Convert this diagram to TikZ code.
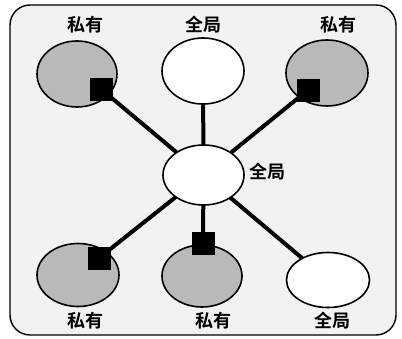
\documentclass[tikz,border=0pt]{standalone}
\usepackage{fontspec}
\newfontfamily\cjk{Noto Sans CJK SC}[BoldFont={Noto Sans CJK SC Bold}]
\usetikzlibrary{shapes.geometric,backgrounds}
\tikzset{
  priv/.style={ellipse,draw=black,line width=1.6pt,fill=gray!55,inner sep=0pt},
  glob/.style={ellipse,draw=black,line width=1.6pt,fill=white,inner sep=0pt},
  port/.style={rectangle,fill=black,draw=black,minimum size=22pt,inner sep=0pt},
  lbl/.style={font=\cjk\bfseries\fontsize{18}{20}\selectfont,inner sep=0pt},
  link/.style={line width=4pt,draw=black}
}
\begin{document}
\begin{tikzpicture}[x=1pt,y=-1pt]
\useasboundingbox (0,0) rectangle (402,339);
% ellipses
\node[priv,minimum width=80pt,minimum height=66pt] (p1) at (77,74) {};
\node[glob,minimum width=82pt,minimum height=66pt] (g1) at (203,71) {};
\node[priv,minimum width=82pt,minimum height=66pt] (p2) at (327,73) {};
\node[glob,minimum width=81pt,minimum height=60pt] (c) at (203.5,175) {};
\node[priv,minimum width=82pt,minimum height=63pt] (p3) at (78,275) {};
\node[priv,minimum width=80pt,minimum height=62pt] (p4) at (202,276) {};
\node[glob,minimum width=83pt,minimum height=55pt] (g2) at (328,280) {};
% ports
\node[port] (s1) at (101,89) {};
\node[port] (s2) at (308,90) {};
\node[port] (s3) at (99,258) {};
\node[port] (s4) at (203,243) {};
% labels
\node[lbl] (l1) at (85,25) {私有};
\node[lbl] (l2) at (203,25) {全局};
\node[lbl] (l3) at (338,25) {私有};
\node[lbl] (l4) at (267,172) {全局};
\node[lbl] (l5) at (85,321) {私有};
\node[lbl] (l6) at (213,321) {私有};
\node[lbl] (l7) at (332,321) {全局};
\begin{scope}[on background layer]
  \draw[line width=1.4pt,fill=gray!10,rounded corners=20pt] (10,5) rectangle (396,335);
  \draw[link] (c.center) -- (s1.center);
  \draw[link] (c.center) -- (g1.center);
  \draw[link] (c.center) -- (s2.center);
  \draw[link] (c.center) -- (s3.center);
  \draw[link] (c.center) -- (s4.center);
  \draw[link] (c.center) -- (g2.center);
\end{scope}
\end{tikzpicture}
\end{document}
